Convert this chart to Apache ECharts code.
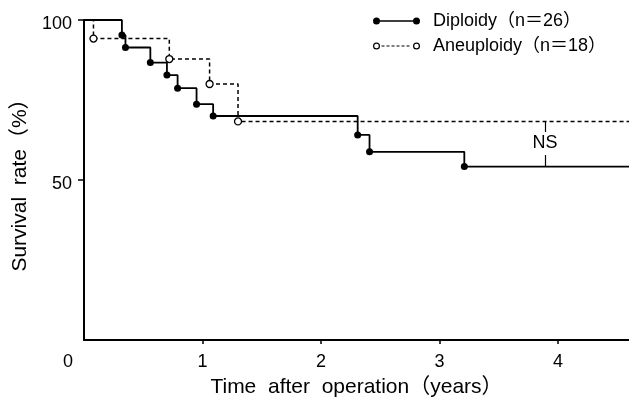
<!DOCTYPE html>
<html>
<head>
<meta charset="utf-8">
<script src="https://cdn.jsdelivr.net/npm/echarts@6/dist/echarts.min.js"></script>
<style>
html,body{margin:0;padding:0;background:#fff;}
#chart{width:629px;height:397px;}
</style>
</head>
<body>
<div id="chart"></div>
<script>
// ---- data ----
const seriesNames = ['Diploidy（n＝26）', 'Aneuploidy（n＝18）'];
const dipTimes = [0.32, 0.35, 0.56, 0.70, 0.79, 0.95, 1.09, 2.31, 2.41, 3.21];
const dipSurv  = [95.3, 91.4, 86.7, 82.8, 78.7, 73.7, 70.0, 64.1, 58.8, 54.2];
const aneTimes = [0.08, 0.72, 1.06, 1.30];
const aneSurv  = [94.2, 87.8, 80.0, 68.3];
const xTicks = [0, 1, 2, 3, 4];
const yTicks = [0, 50, 100];
const timeMax = 4.6;
const nsTime = 3.89;
const nsLabel = 'NS';

const FONT = "'Liberation Sans', Arial, 'Noto Sans CJK JP', sans-serif";

function kmData(times, surv) {
  const d = [{ value: [0, 100], symbol: 'none' }];
  times.forEach((t, i) => d.push({ value: [t, surv[i]] }));
  d.push({ value: [timeMax, surv[surv.length - 1]], symbol: 'none' });
  return d;
}

const dipPath = 'path://M0.5,4a3.5,3.5 0 1,1 7,0a3.5,3.5 0 1,1 -7,0Z' +
  'M7,3.3L41,3.3L41,4.7L7,4.7Z' +
  'M40.5,4a3.5,3.5 0 1,1 7,0a3.5,3.5 0 1,1 -7,0Z';
let anePath = 'path://M0.5,4a3.5,3.5 0 1,1 7,0a3.5,3.5 0 1,1 -7,0Z' +
  'M1.7,4a2.3,2.3 0 1,0 4.6,0a2.3,2.3 0 1,0 -4.6,0Z' +
  'M40.5,4a3.5,3.5 0 1,1 7,0a3.5,3.5 0 1,1 -7,0Z' +
  'M41.7,4a2.3,2.3 0 1,0 4.6,0a2.3,2.3 0 1,0 -4.6,0Z';
for (let x = 9; x < 38; x += 5) {
  anePath += 'M' + x + ',3.4L' + (x + 3) + ',3.4L' + (x + 3) + ',4.6L' + x + ',4.6Z';
}

const chart = echarts.init(document.getElementById('chart'));
chart.setOption({
  animation: false,
  backgroundColor: '#fff',
  textStyle: { fontFamily: FONT, color: '#000' },
  grid: { left: 84, right: 0, top: 20, bottom: 57, containLabel: false, outerBoundsMode: 'none' },
  legend: {
    orient: 'vertical',
    left: 368,
    top: 7,
    itemWidth: 47,
    itemHeight: 7,
    itemGap: 7,
    data: [
      { name: seriesNames[0], icon: dipPath },
      { name: seriesNames[1], icon: anePath }
    ],
    itemStyle: { color: '#000', borderWidth: 0 },
    textStyle: { fontFamily: FONT, fontSize: 18, color: '#000', padding: [0, 0, 0, 8] }
  },
  xAxis: {
    type: 'value',
    min: 0,
    max: timeMax,
    interval: 1,
    name: 'Time  after  operation（years）',
    nameLocation: 'middle',
    nameGap: 37,
    nameTextStyle: { fontFamily: FONT, fontSize: 21, color: '#000' },
    axisLine: { lineStyle: { color: '#000', width: 2 } },
    axisTick: { show: true, length: 4, lineStyle: { color: '#000', width: 1.5 }, customValues: xTicks.slice(1) },
    axisLabel: {
      customValues: xTicks,
      margin: 13,
      fontFamily: FONT,
      fontSize: 18,
      color: '#000',
      formatter: v => (v === 0 ? '{z|0}' : String(v)),
      rich: { z: { fontFamily: FONT, fontSize: 18, color: '#000', padding: [0, 32, 0, 0] } }
    },
    splitLine: { show: false }
  },
  yAxis: {
    type: 'value',
    min: 0,
    max: 100,
    interval: 50,
    name: 'Survival  rate（%）',
    nameLocation: 'middle',
    nameGap: 52,
    nameTextStyle: { fontFamily: FONT, fontSize: 21, color: '#000' },
    axisLine: { show: true, lineStyle: { color: '#000', width: 2 } },
    axisTick: { show: true, length: 6, lineStyle: { color: '#000', width: 1.5 }, customValues: yTicks.slice(1) },
    axisLabel: {
      customValues: yTicks.slice(1),
      margin: 12,
      fontFamily: FONT,
      fontSize: 18,
      color: '#000',
      formatter: v => '{v|' + v + '}',
      rich: { v: { fontFamily: FONT, fontSize: 18, color: '#000', padding: [8, 0, 0, 0] } }
    },
    splitLine: { show: false }
  },
  series: [
    {
      name: seriesNames[1],
      type: 'line',
      step: 'end',
      data: kmData(aneTimes, aneSurv),
      symbol: 'circle',
      symbolSize: 7,
      showAllSymbol: true,
      itemStyle: { color: '#fff', borderColor: '#000', borderWidth: 1.3 },
      lineStyle: { color: '#000', width: 1.5, type: [4, 3] },
      z: 2
    },
    {
      name: seriesNames[0],
      type: 'line',
      step: 'end',
      data: kmData(dipTimes, dipSurv),
      symbol: 'circle',
      symbolSize: 7,
      showAllSymbol: true,
      itemStyle: { color: '#000', borderColor: '#000', borderWidth: 0 },
      lineStyle: { color: '#000', width: 1.8 },
      z: 3,
      markLine: {
        silent: true,
        symbol: 'none',
        label: { show: false },
        lineStyle: { color: '#000', width: 1.2, type: 'solid' },
        data: [
          [{ coord: [nsTime, aneSurv[aneSurv.length - 1]] }, { coord: [nsTime, 65] }],
          [{ coord: [nsTime, 57.8] }, { coord: [nsTime, dipSurv[dipSurv.length - 1]] }]
        ]
      },
      markPoint: {
        silent: true,
        symbol: 'circle',
        symbolSize: 0,
        data: [{ coord: [nsTime, 61.6] }],
        label: {
          show: true,
          position: 'inside',
          formatter: nsLabel,
          fontFamily: FONT,
          fontSize: 18,
          color: '#000'
        }
      }
    }
  ]
});
</script>
</body>
</html>
